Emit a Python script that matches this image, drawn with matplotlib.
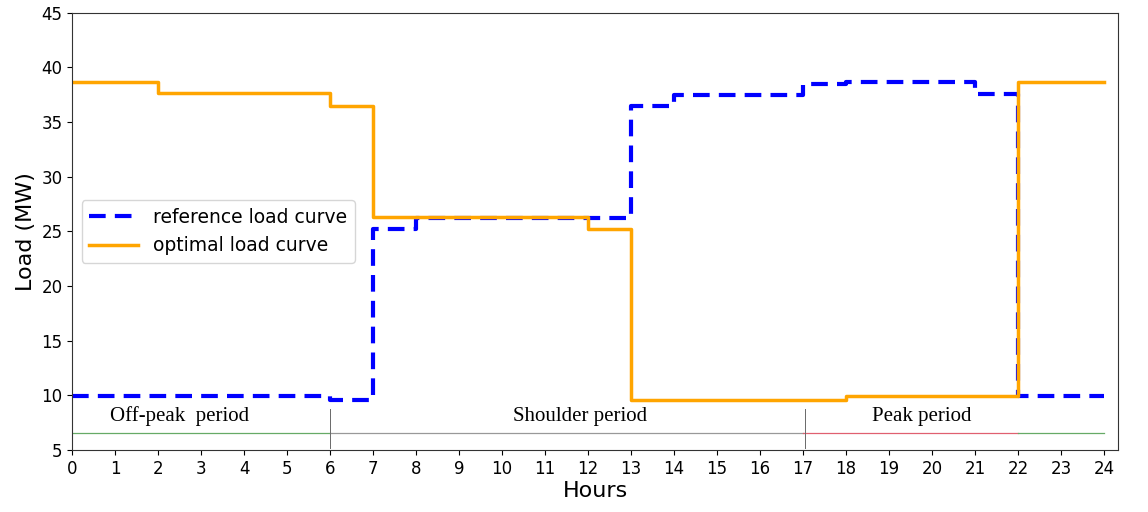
import matplotlib.pyplot as plt
import numpy as np

hours = np.arange(0, 25)
# hourly values (hour 0..23), last repeated for step end
reference = [9.9, 9.9, 9.9, 9.9, 9.9, 9.9, 9.6, 25.2, 26.2, 26.2, 26.2, 26.2, 26.2,
             36.5, 37.5, 37.5, 37.5, 38.5, 38.7, 38.7, 38.7, 37.6, 9.9, 9.9]
optimal = [38.7, 38.7, 37.7, 37.7, 37.7, 37.7, 36.5, 26.3, 26.3, 26.3, 26.3, 26.3, 25.2,
           9.6, 9.6, 9.6, 9.6, 9.6, 9.9, 9.9, 9.9, 9.9, 38.7, 38.7]
reference = reference + [reference[-1]]
optimal = optimal + [optimal[-1]]

periods = ["Off-peak  period", "Shoulder period", "Peak period"]
period_x = [2.5, 11.82, 19.77]
period_bounds = [(0, 6, "#66aa66"), (6, 17, "#999999"), (17, 22, "#e06070"), (22, 24, "#66aa66")]

fig = plt.figure(figsize=(11.48, 5.12), dpi=100)
ax = fig.add_axes([0.063, 0.121, 0.911, 0.854])

ax.step(hours, reference, where="post", color="blue", ls="--", lw=3,
        dashes=(4, 2.2), label="reference load curve")
ax.step(hours, optimal, where="post", color="orange", lw=2.5,
        label="optimal load curve")

for x0, x1, c in period_bounds:
    ax.plot([x0, x1], [6.6, 6.6], color=c, lw=0.9)
for xv in [6, 17.05]:
    ax.plot([xv, xv], [5.2, 8.8], color="dimgray", lw=0.7)
for t, xp in zip(periods, period_x):
    ax.text(xp, 7.2, t, ha="center", va="bottom", family="Liberation Serif", fontsize=15)

ax.set_xlim(0, 24.33)
ax.set_ylim(5, 45)
ax.set_xticks(range(0, 25))
ax.set_yticks(range(5, 46, 5))
ax.tick_params(labelsize=12)
for s in ax.spines.values():
    s.set_color("#333333")
ax.set_xlabel("Hours", fontsize=16, labelpad=2)
ax.set_ylabel("Load (MW)", fontsize=16)
ax.legend(loc="center left", bbox_to_anchor=(0.0, 0.5), fontsize=13.5, handlelength=2.6)

fig.savefig("out.png", dpi=100)
